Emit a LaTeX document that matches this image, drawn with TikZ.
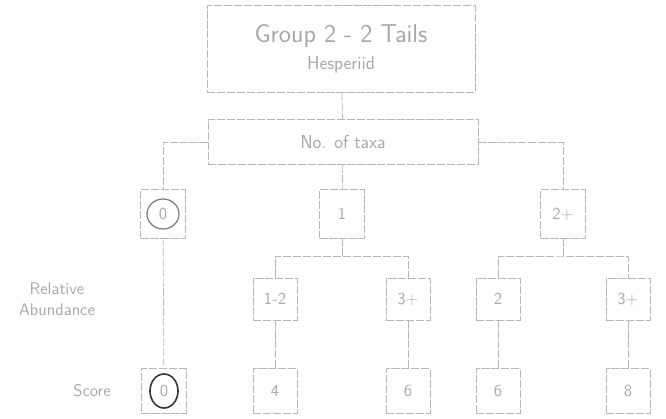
\documentclass[tikz,border=0pt]{standalone}
\usetikzlibrary{positioning, calc}
\definecolor{cfaint}{HTML}{B8B8B8}
\definecolor{ctext}{HTML}{A8A8A8}
\definecolor{cpen}{HTML}{3A3A3A}
\tikzset{
  every picture/.style={font=\sffamily, line width=0.6pt},
  box/.style={draw=cfaint, dash pattern=on 7pt off 1.5pt, text=ctext, align=center, inner sep=2pt,
    minimum width=1.35cm, minimum height=1.45cm, font=\sffamily\Large},
  link/.style={draw=cfaint, dash pattern=on 7pt off 1.5pt},
  rowlab/.style={font=\sffamily\Large, text=ctext, align=center},
}

\begin{document}
\begin{tikzpicture}[x=0.03cm, y=-0.03cm]
  \useasboundingbox (0,0) rectangle (666,419);
  % ---- top and taxa boxes
  \node[box, minimum width=8.04cm, minimum height=2.6cm] (grp) at (341,49)
    {{\fontsize{22}{24}\selectfont Group 2 - 2 Tails}\\[5pt]{\fontsize{16}{18}\selectfont Hesperiid}};
  \node[box, minimum width=8.1cm, minimum height=1.35cm] (taxa) at (343,142)
    {\fontsize{16}{18}\selectfont No. of taxa};
  % ---- number of taxa
  \node[box] (n0) at (163,214) {0};
  \node[box] (n1) at (342,214) {1};
  \node[box] (n2) at (563,214) {2+};
  % ---- relative abundance
  \foreach \k/\xx/\t in {1/275/1-2, 2/408/3+, 3/498/2, 4/628/3+}
    \node[box, minimum width=1.32cm, minimum height=1.26cm] (a\k) at (\xx,299) {\t};
  % ---- score
  \node[box, minimum height=1.35cm] (s0) at (164,391) {0};
  \foreach \k/\xx/\t in {1/275/4, 2/408/6, 3/498/6, 4/628/8}
    \node[box, minimum width=1.32cm, minimum height=1.35cm] (s\k) at (\xx,391) {\t};
  % ---- row labels
  \node[rowlab] (rab) at (57,299) {Relative\\Abundance};
  \node[rowlab] (rsc) at (92,391) {Score};
  % ---- connectors
  \coordinate (j1) at (342,256);
  \coordinate (j2) at (563,256);
  \draw[link] (grp) -- (taxa);
  \draw[link] (taxa) -- (n1);
  \draw[link] (taxa.west) -| (n0);
  \draw[link] (taxa.east) -| (n2);
  \draw[link] (n1) -- (j1);
  \draw[link] (n2) -- (j2);
  \draw[link] (a1) |- (j1) -| (a2);
  \draw[link] (a3) |- (j2) -| (a4);
  \draw[link] (n0) -- (s0);
  \foreach \k in {1,2,3,4} \draw[link] (a\k) -- (s\k);
  % hand-drawn rings round the zeros
  \draw[cfaint!70!black, line width=1.1pt] (n0.center) ellipse (16 and 15);
  \draw[cpen, line width=1.4pt] (s0.center) ellipse (14 and 17);
\end{tikzpicture}
\end{document}
